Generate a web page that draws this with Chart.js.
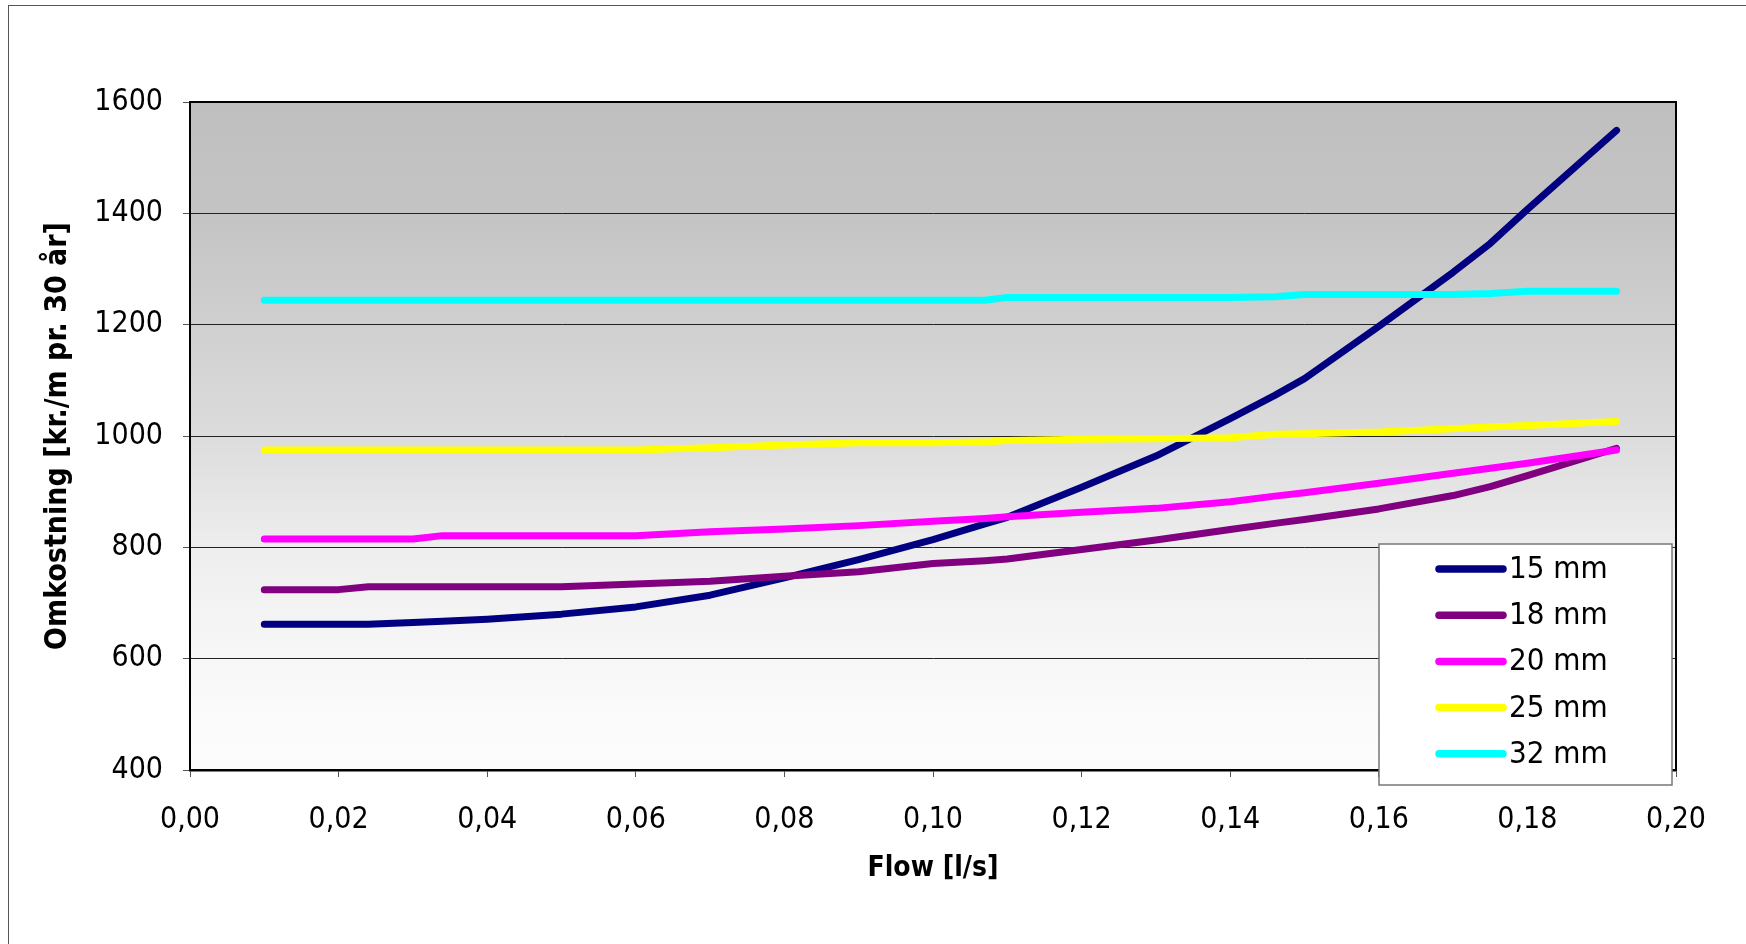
<!DOCTYPE html>
<html>
<head>
<meta charset="utf-8">
<title>Omkostning</title>
<script src="https://cdn.jsdelivr.net/npm/chart.js@4.4.1/dist/chart.umd.min.js"></script>
<style>
  html, body { margin: 0; padding: 0; background: #fff; overflow: hidden; }
  canvas { display: block; }
</style>
</head>
<body>
<canvas id="costChart" width="1746" height="944"></canvas>
<script>
'use strict'

// flow [l/s] (x-akse)
const flow = [0.01, 0.02, 0.024, 0.03, 0.034, 0.04, 0.05, 0.06, 0.07, 0.08, 0.09, 0.10,
              0.107, 0.11, 0.12, 0.13, 0.14, 0.146, 0.15, 0.16, 0.17, 0.175, 0.18, 0.192];

// omkostning [kr./m pr. 30 år] pr. rørdimension
const cost15 = [662, 662, 662, 665, 667, 671, 680, 693, 714, 745, 778, 814,
                842, 854, 908, 964, 1031, 1073, 1103, 1197, 1294, 1346, 1407, 1549];
const cost18 = [724, 724, 729, 729, 729, 729, 729, 734, 739, 748, 756, 771,
                776, 779, 796, 813, 832, 843, 850, 869, 893, 909, 929, 978];
const cost20 = [815, 815, 815, 815, 821, 821, 821, 821, 828, 833, 839, 847,
                852, 855, 863, 870, 882, 892, 898, 915, 933, 942, 951, 975];
const cost25 = [975, 975, 975, 975, 975, 975, 975, 975, 979, 984, 988, 988,
                989, 992, 994, 995, 997, 1003, 1004, 1007, 1013, 1016, 1019, 1026];
const cost32 = [1244, 1244, 1244, 1244, 1244, 1244, 1244, 1244, 1244, 1244, 1244, 1244,
                1244, 1249, 1249, 1249, 1249, 1250, 1254, 1254, 1254, 1256, 1260, 1260];

const seriesNames = ['15 mm', '18 mm', '20 mm', '25 mm', '32 mm'];
const seriesCosts = [cost15, cost18, cost20, cost25, cost32];
const lineColors = ['#000080', '#800080', '#ff00ff', '#ffff00', '#00ffff'];

const fontFamily = "Tahoma, 'DejaVu Sans Condensed', 'Noto Sans', sans-serif";

// lav datasæt ud fra arrays
const datasets = seriesNames.map((name, i) => ({
  label: name,
  data: flow.map((f, j) => ({ x: f, y: seriesCosts[i][j] })),
  borderColor: lineColors[i],
  backgroundColor: lineColors[i],
  borderWidth: 7,
  borderCapStyle: 'round',
  borderJoinStyle: 'round',
  pointRadius: 0,
  tension: 0,
  order: seriesNames.length - i   // sidste serie tegnes øverst, som i Excel
}));

// baggrund, ramme og forklaring
const excelLook = {
  id: 'excelLook',
  beforeDraw(chart) {
    const { ctx, chartArea: a } = chart;
    ctx.save();
    ctx.fillStyle = '#fff';
    ctx.fillRect(0, 0, chart.width, chart.height);
    ctx.strokeStyle = '#555';
    ctx.lineWidth = 1;
    ctx.strokeRect(8.5, 5.5, chart.width + 20, chart.height + 20);
    const g = ctx.createLinearGradient(0, a.top, 0, a.bottom);
    g.addColorStop(0, '#bfbfbf');
    g.addColorStop(0.17, '#c4c4c4');
    g.addColorStop(0.33, '#cfcfcf');
    g.addColorStop(0.5, '#dcdcdc');
    g.addColorStop(0.67, '#eeeeee');
    g.addColorStop(0.83, '#f7f7f7');
    g.addColorStop(1, '#fdfdfd');
    ctx.fillStyle = g;
    ctx.fillRect(a.left, a.top, a.right - a.left, a.bottom - a.top);
    ctx.restore();
  },
  afterDraw(chart) {
    const { ctx, chartArea: a } = chart;
    ctx.save();
    // plot-ramme
    ctx.strokeStyle = '#000';
    ctx.lineWidth = 2;
    ctx.strokeRect(a.left, a.top, a.right - a.left, a.bottom - a.top);

    // forklaring
    const lx = a.right - 297, ly = a.bottom - 226, lw = 293, lh = 241;
    ctx.fillStyle = '#fff';
    ctx.fillRect(lx, ly, lw, lh);
    ctx.strokeStyle = '#777';
    ctx.lineWidth = 1.5;
    ctx.strokeRect(lx, ly, lw, lh);
    ctx.font = '31px ' + fontFamily;
    ctx.textBaseline = 'middle';
    ctx.textAlign = 'left';
    chart.data.datasets.forEach((ds, i) => {
      const y = ly + 25 + i * 46.2;
      ctx.strokeStyle = ds.borderColor;
      ctx.lineWidth = 7.5;
      ctx.lineCap = 'round';
      ctx.beginPath();
      ctx.moveTo(lx + 60, y);
      ctx.lineTo(lx + 124, y);
      ctx.stroke();
      ctx.fillStyle = '#000';
      ctx.fillText(ds.label, lx + 130, y + 1);
    });
    ctx.restore();
  }
};

const ctx = document.getElementById('costChart').getContext('2d');
const costChart = new Chart(ctx, {
  type: 'line',
  data: { datasets: datasets },
  options: {
    responsive: false,
    animation: false,
    devicePixelRatio: 1,
    layout: { padding: { top: 102, right: 70, left: 0, bottom: 0 } },
    plugins: {
      legend: { display: false },
      tooltip: { enabled: false },
      title: { display: false }
    },
    scales: {
      x: {
        type: 'linear',
        min: 0,
        max: 0.2,
        afterFit(scale) { scale.height = 174; },
        ticks: {
          stepSize: 0.02,
          color: '#000',
          padding: 25,
          maxRotation: 0,
          font: { family: fontFamily, size: 30 },
          callback: v => v.toFixed(2).replace('.', ',')
        },
        grid: {
          drawOnChartArea: false,
          drawTicks: true,
          tickLength: 7,
          tickColor: '#555'
        },
        border: { display: true, color: '#000', width: 2.5 },
        title: {
          display: true,
          text: 'Flow [l/s]',
          color: '#000',
          font: { family: fontFamily, size: 28, weight: 'bold' },
          padding: { top: 0, bottom: 58 }
        }
      },
      y: {
        min: 400,
        max: 1600,
        afterFit(scale) { scale.width = 190; },
        ticks: {
          stepSize: 200,
          color: '#000',
          padding: 20,
          font: { family: fontFamily, size: 30 },
          callback: v => String(v)
        },
        grid: {
          color: '#222',
          lineWidth: 1,
          tickLength: 7,
          tickColor: '#555'
        },
        border: { display: true, color: '#000', width: 2 },
        title: {
          display: true,
          text: 'Omkostning [kr./m pr. 30 år]',
          color: '#000',
          font: { family: fontFamily, size: 30, weight: 'bold' },
          padding: { top: 40, bottom: 0 }
        }
      }
    }
  },
  plugins: [excelLook]
});
</script>
</body>
</html>
